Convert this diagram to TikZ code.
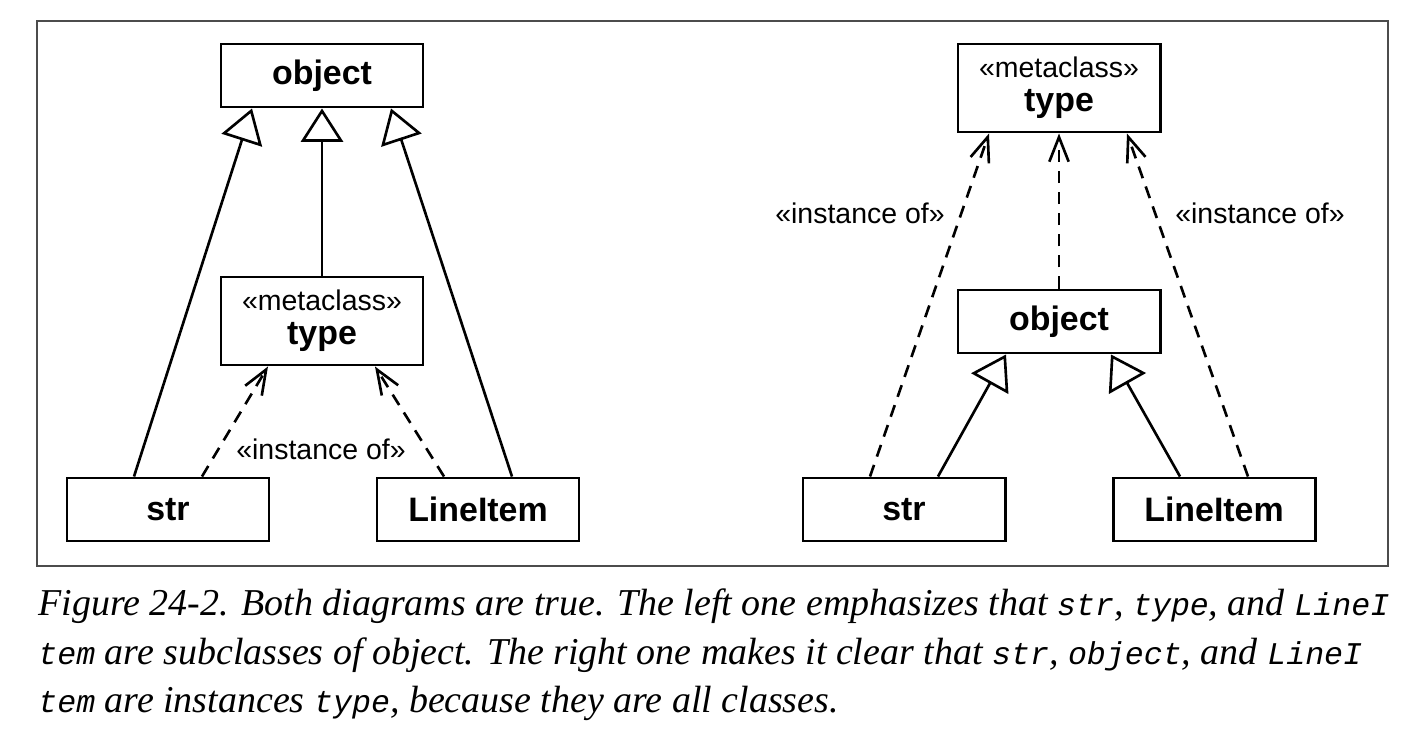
\documentclass[tikz,border=0pt]{standalone}
\usepackage{fontspec}
\setmainfont{Liberation Serif}
\setsansfont{Liberation Sans}
\setmonofont{Liberation Mono}
\usepackage{tikz}
\usetikzlibrary{arrows.meta}

\newcommand{\capcode}[1]{{\ttfamily\fontsize{18}{20}\selectfont #1}}

\tikzset{
	classbox/.style={draw, line width=1.7pt, minimum width=4.04cm, minimum height=1.26cm, inner sep=0pt, align=center, font=\sffamily\bfseries\fontsize{19.3}{19.5}\selectfont},
	metabox/.style={classbox, minimum height=1.76cm},
	stereo/.style={font=\sffamily\fontsize{16.2}{19}\selectfont},
	inherits/.style={line width=1.5pt, -{Triangle[open, length=19pt, width=24pt]}},
	instof/.style={line width=1.5pt, dash pattern=on 7pt off 5pt, -{Straight Barb[length=14pt, width=11pt]}},
	captext/.style={anchor=base west, inner sep=0pt, font=\itshape\fontsize{21.6}{27}\selectfont},
}

\begin{document}
\begin{tikzpicture}
		\useasboundingbox (0, 0) rectangle (28.1, -14.58);
		\draw[black!70, line width=0.8pt] (0.74, -0.42) rectangle (27.76, -11.32);

		% left: everything is a subclass of object
		\node[classbox] (objL) at (6.44, -1.51) {object};
		\node[metabox] (typeL) at (6.44, -6.42) {{\mdseries\fontsize{16.2}{19}\selectfont «metaclass»}\\type};
		\node[classbox] (strL) at (3.36, -10.19) {str};
		\node[classbox] (itemL) at (9.56, -10.19) {LineItem};
		\node[stereo] (instL) at (6.42, -8.98) {«instance of»};

		\draw[inherits] ([xshift=-0.68cm]strL.north) -- ([xshift=-1.4cm]objL.south);
		\draw[inherits] (typeL.north) -- (objL.south);
		\draw[inherits] ([xshift=0.68cm]itemL.north) -- ([xshift=1.38cm]objL.south);
		\draw[instof] ([xshift=0.68cm]strL.north) -- ([xshift=-1.08cm]typeL.south);
		\draw[instof] ([xshift=-0.68cm]itemL.north) -- ([xshift=1.06cm]typeL.south);

		% right: everything is an instance of type
		\node[metabox] (typeR) at (21.18, -1.76) {{\mdseries\fontsize{16.2}{19}\selectfont «metaclass»}\\type};
		\node[classbox] (objR) at (21.18, -6.43) {object};
		\node[classbox] (strR) at (18.08, -10.19) {str};
		\node[classbox] (itemR) at (24.28, -10.19) {LineItem};
		\node[stereo] (instR1) at (17.2, -4.26) {«instance of»};
		\node[stereo] (instR2) at (25.2, -4.26) {«instance of»};

		\draw[instof] ([xshift=-0.68cm]strR.north) -- ([xshift=-1.4cm]typeR.south);
		\draw[instof] (objR.north) -- (typeR.south);
		\draw[instof] ([xshift=0.68cm]itemR.north) -- ([xshift=1.36cm]typeR.south);
		\draw[inherits] ([xshift=0.68cm]strR.north) -- ([xshift=-1.06cm]objR.south);
		\draw[inherits] ([xshift=-0.68cm]itemR.north) -- ([xshift=1.04cm]objR.south);

		\node[captext] (cap1) at (0.76, -12.3) {Figure 24-2. Both diagrams are true. The left one emphasizes that \capcode{str}, \capcode{type}, and \capcode{LineI}};
		\node[captext] (cap2) at (0.76, -13.28) {\capcode{tem} are subclasses of object. The right one makes it clear that \capcode{str}, \capcode{object}, and \capcode{LineI}};
		\node[captext] (cap3) at (0.76, -14.24) {\capcode{tem} are instances \capcode{type}, because they are all classes.};
	\end{tikzpicture}
\end{document}
